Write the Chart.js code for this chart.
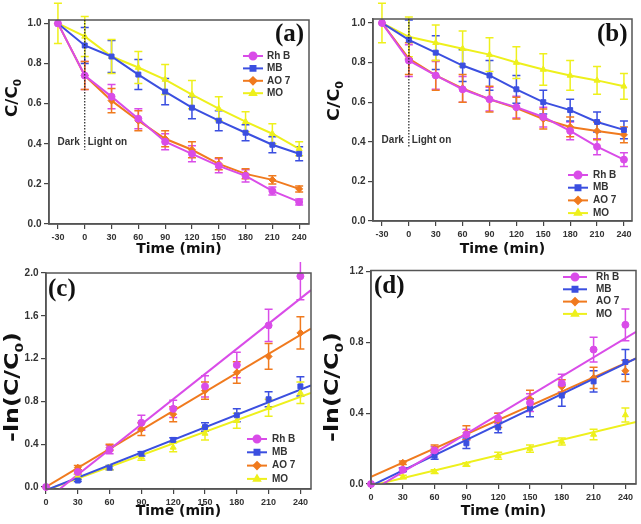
<!DOCTYPE html>
<html>
<head>
<meta charset="utf-8">
<script src="https://cdn.jsdelivr.net/npm/chart.js@4.4.0/dist/chart.umd.min.js"></script>
<style>
body { margin: 0; background: #fff; }
.panel { position: absolute; }
</style>
</head>
<body>
<div class="panel" style="left:0;top:0"><canvas id="chartA" width="320" height="262"></canvas></div>
<div class="panel" style="left:320px;top:0"><canvas id="chartB" width="321" height="262"></canvas></div>
<div class="panel" style="left:0;top:262px"><canvas id="chartC" width="320" height="262"></canvas></div>
<div class="panel" style="left:320px;top:262px"><canvas id="chartD" width="321" height="262"></canvas></div>
<script>
// time axes
var timeAB = [-30, 0, 30, 60, 90, 120, 150, 180, 210, 240];
var timeCD = [0, 30, 60, 90, 120, 150, 180, 210, 240];
var ticksAB = [-30, 0, 30, 60, 90, 120, 150, 180, 210, 240];
var ticksCD = [0, 30, 60, 90, 120, 150, 180, 210, 240];
var yTicksAB = [0, 0.2, 0.4, 0.6, 0.8, 1.0];
var yTicksC = [0, 0.4, 0.8, 1.2, 1.6, 2.0];
var yTicksD = [0, 0.4, 0.8, 1.2];

var names = ['Rh B', 'MB', 'AO 7', 'MO'];

// (a) C/C0
var rhbA = [1.0, 0.74, 0.635, 0.525, 0.41, 0.35, 0.29, 0.24, 0.165, 0.11];
var rhbErrA = [0, 0.07, 0.06, 0.05, 0.04, 0.04, 0.035, 0.03, 0.02, 0.015];
var mbA = [1.0, 0.89, 0.835, 0.745, 0.66, 0.58, 0.515, 0.455, 0.395, 0.35];
var mbErrA = [0, 0.09, 0.08, 0.075, 0.065, 0.055, 0.05, 0.04, 0.04, 0.035];
var ao7A = [1.0, 0.74, 0.615, 0.515, 0.425, 0.37, 0.3, 0.25, 0.22, 0.175];
var ao7ErrA = [0, 0.07, 0.06, 0.05, 0.04, 0.04, 0.03, 0.025, 0.02, 0.015];
var moA = [1.0, 0.935, 0.835, 0.78, 0.72, 0.645, 0.575, 0.51, 0.45, 0.375];
var moErrA = [0.1, 0.1, 0.085, 0.08, 0.075, 0.07, 0.06, 0.05, 0.05, 0.035];

// (b) C/C0
var rhbB = [1.0, 0.81, 0.735, 0.665, 0.615, 0.575, 0.525, 0.455, 0.375, 0.31];
var rhbErrB = [0, 0.08, 0.07, 0.065, 0.06, 0.055, 0.05, 0.045, 0.04, 0.035];
var mbB = [1.0, 0.915, 0.85, 0.785, 0.735, 0.665, 0.6, 0.56, 0.5, 0.46];
var mbErrB = [0, 0.1, 0.085, 0.08, 0.075, 0.07, 0.06, 0.055, 0.05, 0.045];
var ao7B = [1.0, 0.82, 0.735, 0.67, 0.615, 0.57, 0.515, 0.475, 0.455, 0.435];
var ao7ErrB = [0, 0.08, 0.075, 0.07, 0.065, 0.055, 0.05, 0.05, 0.045, 0.04];
var moB = [1.0, 0.93, 0.9, 0.87, 0.84, 0.8, 0.765, 0.735, 0.71, 0.68];
var moErrB = [0.1, 0.1, 0.09, 0.09, 0.085, 0.08, 0.08, 0.075, 0.07, 0.065];

// (c) -ln(C/C0)
var rhbC = [0, 0.14, 0.35, 0.6, 0.73, 0.94, 1.14, 1.51, 1.97];
var rhbErrC = [0, 0.02, 0.04, 0.07, 0.08, 0.1, 0.12, 0.15, 0.22];
var mbC = [0, 0.06, 0.18, 0.31, 0.44, 0.56, 0.67, 0.82, 0.94];
var mbErrC = [0, 0.01, 0.02, 0.02, 0.02, 0.04, 0.06, 0.07, 0.09];
var ao7C = [0, 0.18, 0.37, 0.54, 0.68, 0.9, 1.07, 1.22, 1.44];
var ao7ErrC = [0, 0.02, 0.03, 0.06, 0.07, 0.08, 0.1, 0.12, 0.15];
var moC = [0, 0.1, 0.18, 0.28, 0.37, 0.5, 0.62, 0.74, 0.88];
var moErrC = [0, 0.02, 0.02, 0.03, 0.04, 0.06, 0.07, 0.08, 0.1];
// fitted lines, values read at t = 0 and t = 250
var fitX = [0, 250];
var rhbFitC = [-0.12, 1.84];
var mbFitC = [-0.03, 0.95];
var ao7FitC = [0.0, 1.48];
var moFitC = [-0.03, 0.88];

// (d) -ln(C/C0)
var rhbD = [0, 0.08, 0.19, 0.28, 0.37, 0.46, 0.57, 0.76, 0.9];
var rhbErrD = [0, 0.01, 0.02, 0.03, 0.03, 0.05, 0.05, 0.07, 0.09];
var mbD = [0, 0.08, 0.16, 0.23, 0.32, 0.43, 0.5, 0.58, 0.69];
var mbErrD = [0, 0.01, 0.02, 0.03, 0.03, 0.05, 0.06, 0.06, 0.07];
var ao7D = [0, 0.12, 0.2, 0.29, 0.36, 0.48, 0.55, 0.6, 0.64];
var ao7ErrD = [0, 0.01, 0.02, 0.04, 0.04, 0.05, 0.04, 0.06, 0.06];
var moD = [0, 0.04, 0.07, 0.11, 0.16, 0.2, 0.24, 0.28, 0.39];
var moErrD = [0, 0.01, 0.01, 0.01, 0.02, 0.02, 0.02, 0.03, 0.04];
var rhbFitD = [-0.04, 0.86];
var mbFitD = [-0.01, 0.71];
var ao7FitD = [0.04, 0.71];
var moFitD = [-0.01, 0.35];

var colors = ['#d94ce8', '#3b4fe0', '#f07a1e', '#eef01c'];
var markers = ['circle', 'rect', 'rectRot', 'triangle'];

var SANS = "'Liberation Sans', Arial, sans-serif";
var WIDE = "'DejaVu Sans', Verdana, sans-serif";

Chart.defaults.font.family = SANS;
Chart.defaults.font.weight = 'bold';
Chart.defaults.animation = false;

function pts(xs, ys) {
  return xs.map(function(x, i) { return {x: x, y: ys[i]}; });
}

// error bars, frame, legend, labels
var extras = {
  id: 'extras',
  beforeDatasetsDraw: function(chart) {
    var ctx = chart.ctx, xs = chart.scales.x, ys = chart.scales.y;
    ctx.save();
    chart.data.datasets.forEach(function(ds) {
      if (!ds.errors) return;
      ctx.strokeStyle = ds.borderColor;
      ctx.lineWidth = 1.5;
      ds.data.forEach(function(p, i) {
        var e = ds.errors[i];
        if (!e) return;
        var x = xs.getPixelForValue(p.x);
        var y1 = ys.getPixelForValue(p.y + e), y2 = ys.getPixelForValue(p.y - e);
        ctx.beginPath();
        ctx.moveTo(x, y1); ctx.lineTo(x, y2);
        ctx.moveTo(x - 4, y1); ctx.lineTo(x + 4, y1);
        ctx.moveTo(x - 4, y2); ctx.lineTo(x + 4, y2);
        ctx.stroke();
      });
    });
    ctx.restore();
  },
  afterDraw: function(chart) {
    var ctx = chart.ctx, a = chart.chartArea, o = chart.options.plugins.extras;
    var xs = chart.scales.x, ys = chart.scales.y;
    ctx.save();
    // frame
    ctx.strokeStyle = '#555';
    ctx.lineWidth = 1.5;
    ctx.strokeRect(a.left, a.top, a.right - a.left, a.bottom - a.top);

    // dark / light on marker
    if (o.dark) {
      var lx = xs.getPixelForValue(0);
      ctx.strokeStyle = '#222';
      ctx.lineWidth = 1.2;
      ctx.setLineDash([1.5, 1.5]);
      ctx.beginPath();
      ctx.moveTo(lx, a.top);
      ctx.lineTo(lx, ys.getPixelForValue(0.37));
      ctx.stroke();
      ctx.setLineDash([]);
      ctx.fillStyle = '#333';
      ctx.font = "bold 10px " + SANS;
      ctx.textBaseline = 'middle';
      var ty = ys.getPixelForValue(0.41);
      ctx.textAlign = 'right';
      ctx.fillText('Dark', lx - 5, ty);
      ctx.textAlign = 'left';
      ctx.fillText('Light on', lx + 3, ty);
    }

    // legend
    var lg = o.legend;
    ctx.font = "bold 10px " + SANS;
    ctx.textAlign = 'left';
    ctx.textBaseline = 'middle';
    for (var i = 0; i < 4; i++) {
      var y = lg.y + i * lg.step;
      ctx.strokeStyle = colors[i];
      ctx.fillStyle = colors[i];
      ctx.lineWidth = 2;
      ctx.beginPath();
      ctx.moveTo(lg.x0, y); ctx.lineTo(lg.x1, y);
      ctx.stroke();
      Chart.helpers.drawPoint(ctx, {pointStyle: markers[i], radius: 3.5, borderWidth: 1, rotation: 0}, (lg.x0 + lg.x1) / 2, y);
      ctx.fillStyle = '#333';
      ctx.fillText(names[i], lg.tx, y);
    }

    // y axis title with subscript 0
    var t = o.yTitle;
    ctx.translate(t.x, t.y);
    ctx.rotate(-Math.PI / 2);
    ctx.fillStyle = '#111';
    var big = "bold " + t.size + "px " + WIDE, small = "bold " + Math.round(t.size * 0.6) + "px " + WIDE;
    ctx.font = big;
    var w1 = ctx.measureText(t.head).width, w3 = ctx.measureText(t.tail).width;
    ctx.font = small;
    var w2 = ctx.measureText('0').width;
    var sx = t.len / (w1 + w2 + w3);
    ctx.scale(sx, 1);
    var x0 = -(w1 + w2 + w3) / 2;
    ctx.textAlign = 'left';
    ctx.textBaseline = 'middle';
    ctx.font = big;
    ctx.fillText(t.head, x0, 0);
    ctx.font = small;
    ctx.fillText('0', x0 + w1, t.size * 0.35);
    ctx.font = big;
    ctx.fillText(t.tail, x0 + w1 + w2, 0);
    ctx.setTransform(1, 0, 0, 1, 0, 0);

    // panel letter
    ctx.fillStyle = '#111';
    ctx.font = "bold 25px 'Liberation Serif', 'Times New Roman', serif";
    ctx.textAlign = 'left';
    ctx.textBaseline = 'alphabetic';
    ctx.fillText(o.label, o.labelX, o.labelY);
    ctx.restore();
  }
};

function makePanel(id, p) {
  var datasets = [];
  for (var i = 0; i < 4; i++) {
    datasets.push({
      data: pts(p.xs, p.series[i][0]),
      errors: p.series[i][1],
      borderColor: colors[i],
      backgroundColor: colors[i],
      borderWidth: 2,
      pointStyle: markers[i],
      pointRadius: 3.5,
      pointBorderWidth: 1,
      showLine: !p.fits,
      clip: false
    });
  }
  if (p.fits) {
    for (var j = 0; j < 4; j++) {
      datasets.push({
        data: pts(fitX, p.fits[j]),
        borderColor: colors[j],
        borderWidth: 2,
        pointRadius: 0,
        showLine: true
      });
    }
  }
  return new Chart(document.getElementById(id), {
    type: 'line',
    data: {datasets: datasets},
    plugins: [extras],
    options: {
      responsive: false,
      layout: {padding: {left: 0, top: p.top, right: p.right, bottom: 0}},
      plugins: {
        legend: {display: false},
        tooltip: {enabled: false},
        extras: {dark: p.dark, legend: p.legend, label: p.label, labelX: p.labelX, labelY: p.labelY, yTitle: p.yTitle}
      },
      scales: {
        x: {
          type: 'linear',
          min: p.xMin,
          max: p.xMax,
          afterBuildTicks: function(axis) { axis.ticks = p.xTicks.map(function(v) { return {value: v}; }); },
          afterFit: function(axis) { axis.height = p.xHeight; },
          grid: {drawOnChartArea: false, drawTicks: true, tickLength: 5, color: '#444', lineWidth: 1.2},
          border: {color: '#555', width: 1.5},
          ticks: {color: '#333', font: {size: 9, weight: 'bold'}, padding: 3, maxRotation: 0, autoSkip: false},
          title: {display: true, text: 'Time (min)', color: '#111', font: {family: WIDE, size: 14, weight: 'bold'}, padding: {top: 0, bottom: 4}}
        },
        y: {
          type: 'linear',
          min: p.yMin,
          max: p.yMax,
          afterBuildTicks: function(axis) { axis.ticks = p.yTicks.map(function(v) { return {value: v}; }); },
          afterFit: function(axis) { axis.width = p.yWidth; },
          grid: {drawOnChartArea: false, drawTicks: true, tickLength: 5, color: '#444', lineWidth: 1.2},
          border: {color: '#555', width: 1.5},
          ticks: {color: '#333', font: {size: 10, weight: 'bold'}, padding: 2.5,
                  callback: function(v) { return Number(v).toFixed(1); }}
        }
      }
    }
  });
}

makePanel('chartA', {
  xs: timeAB, xTicks: ticksAB, yTicks: yTicksAB,
  series: [[rhbA, rhbErrA], [mbA, mbErrA], [ao7A, ao7ErrA], [moA, moErrA]],
  xMin: -40, xMax: 251, yMin: 0, yMax: 1.017,
  top: 20, right: 11, yWidth: 49, xHeight: 38,
  yTitle: {head: 'C/C', tail: '', x: 13, y: 98, size: 16, len: 38},
  dark: true,
  legend: {x0: 243, x1: 263, tx: 267, y: 56, step: 12.4},
  label: '(a)', labelX: 275, labelY: 41
});

makePanel('chartB', {
  xs: timeAB, xTicks: ticksAB, yTicks: yTicksAB,
  series: [[rhbB, rhbErrB], [mbB, mbErrB], [ao7B, ao7ErrB], [moB, moErrB]],
  xMin: -40, xMax: 249, yMin: 0, yMax: 1.02,
  top: 19, right: 9, yWidth: 53, xHeight: 41,
  yTitle: {head: 'C/C', tail: '', x: 15, y: 101, size: 16, len: 40},
  dark: true,
  legend: {x0: 248, x1: 268, tx: 273, y: 175, step: 12.7},
  label: '(b)', labelX: 277, labelY: 41
});

makePanel('chartC', {
  xs: timeCD, xTicks: ticksCD, yTicks: yTicksC,
  series: [[rhbC, rhbErrC], [mbC, mbErrC], [ao7C, ao7ErrC], [moC, moErrC]],
  fits: [rhbFitC, mbFitC, ao7FitC, moFitC],
  xMin: 0, xMax: 250, yMin: -0.019, yMax: 2.0,
  top: 11, right: 9, yWidth: 46, xHeight: 35,
  yTitle: {head: '-ln(C/C', tail: ')', x: 13, y: 125, size: 19, len: 110},
  dark: false,
  legend: {x0: 247, x1: 267, tx: 272, y: 177, step: 13.3},
  label: '(c)', labelX: 48, labelY: 34
});

makePanel('chartD', {
  xs: timeCD, xTicks: ticksCD, yTicks: yTicksD,
  series: [[rhbD, rhbErrD], [mbD, mbErrD], [ao7D, ao7ErrD], [moD, moErrD]],
  fits: [rhbFitD, mbFitD, ao7FitD, moFitD],
  xMin: 0, xMax: 250, yMin: 0, yMax: 1.207,
  top: 6, right: 4, yWidth: 51, xHeight: 40,
  yTitle: {head: '-ln(C/C', tail: ')', x: 13, y: 125, size: 19, len: 110},
  dark: false,
  legend: {x0: 243, x1: 267, tx: 276, y: 15, step: 12.3},
  label: '(d)', labelX: 54, labelY: 31
});
</script>
</body>
</html>
